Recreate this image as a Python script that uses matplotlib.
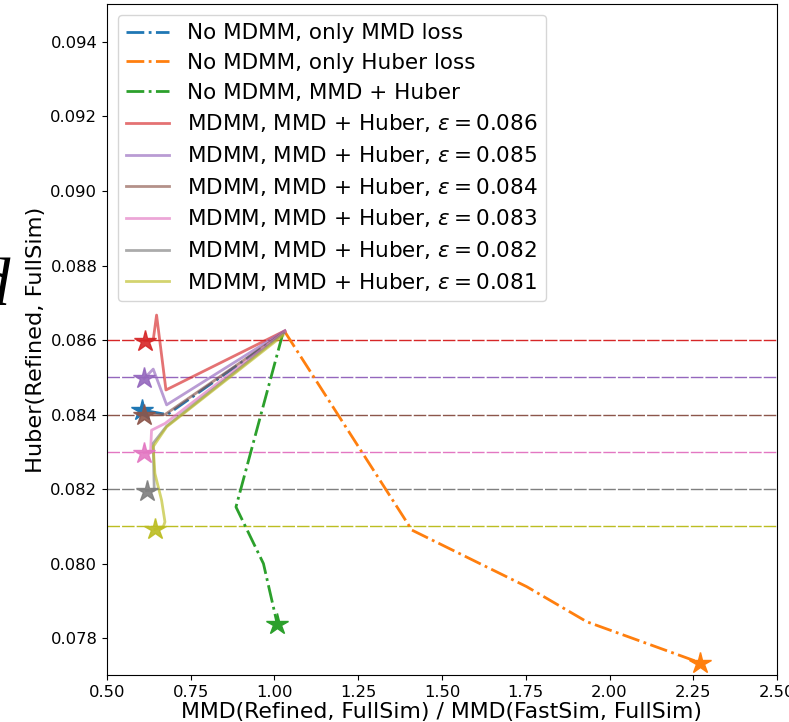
import matplotlib
matplotlib.use("Agg")
import matplotlib.pyplot as plt
import numpy as np

# ---- data ----
blue_x = [1.031, 0.680, 0.605]
blue_y = [0.08622, 0.08400, 0.08412]

orange_x = [1.031, 1.410, 1.753, 1.932, 2.270]
orange_y = [0.08622, 0.08090, 0.07938, 0.07844, 0.07734]

green_x = [1.025, 0.885, 0.967, 1.008]
green_y = [0.08618, 0.08152, 0.08000, 0.07839]

eps_values = [0.086, 0.085, 0.084, 0.083, 0.082, 0.081]

red_x = [1.031, 0.676, 0.648, 0.638, 0.613]
red_y = [0.08625, 0.08466, 0.08667, 0.08600, 0.08598]

purple_x = [1.031, 0.678, 0.638, 0.611]
purple_y = [0.08625, 0.08426, 0.08522, 0.08497]

brown_x = [1.031, 0.673, 0.611]
brown_y = [0.08622, 0.08400, 0.08399]

pink_x = [1.031, 0.673, 0.633, 0.630, 0.611]
pink_y = [0.08622, 0.08376, 0.08358, 0.08300, 0.08298]

gray_x = [1.028, 0.678, 0.638, 0.641, 0.618]
gray_y = [0.08618, 0.08369, 0.08323, 0.08197, 0.08196]

olive_x = [1.025, 0.678, 0.638, 0.643, 0.663, 0.673, 0.668, 0.643]
olive_y = [0.08612, 0.08367, 0.08314, 0.08242, 0.08170, 0.08112, 0.08099, 0.08092]

mdmm_x = [red_x, purple_x, brown_x, pink_x, gray_x, olive_x]
mdmm_y = [red_y, purple_y, brown_y, pink_y, gray_y, olive_y]

x_ticks = [0.50, 0.75, 1.00, 1.25, 1.50, 1.75, 2.00, 2.25, 2.50]
y_ticks = [0.078, 0.080, 0.082, 0.084, 0.086, 0.088, 0.090, 0.092, 0.094]

nomdmm_labels = ["No MDMM, only MMD loss", "No MDMM, only Huber loss", "No MDMM, MMD + Huber"]

# ---- styling ----
c_blue, c_orange, c_green = "#1f77b4", "#ff7f0e", "#2ca02c"
mdmm_colors = ["#d62728", "#9467bd", "#8c564b", "#e377c2", "#7f7f7f", "#bcbd22"]

fig = plt.figure(figsize=(7.89, 7.22), dpi=100)
ax = fig.add_axes([0.1356, 0.0651, 0.8492, 0.9294])

lw_dd = 2.0
ax.plot(blue_x, blue_y, color=c_blue, ls="-.", lw=lw_dd, label=nomdmm_labels[0])
ax.plot(orange_x, orange_y, color=c_orange, ls="-.", lw=lw_dd, label=nomdmm_labels[1])
ax.plot(green_x, green_y, color=c_green, ls="-.", lw=lw_dd, label=nomdmm_labels[2])

for xs, ys, eps, col in zip(mdmm_x, mdmm_y, eps_values, mdmm_colors):
    ax.plot(xs, ys, color=col, lw=2.0, alpha=0.65,
            label=r"MDMM, MMD + Huber, $\epsilon = $" + f"{eps:.3f}")

# horizontal epsilon lines
for eps, col in zip(eps_values, mdmm_colors):
    ax.axhline(eps, color=col, lw=1.0, ls=(0, (9, 1.5)), zorder=1)

# end-point stars
ax.plot(blue_x[-1], blue_y[-1], marker="*", ms=16, color=c_blue, ls="none")
ax.plot(orange_x[-1], orange_y[-1], marker="*", ms=16, color=c_orange, ls="none")
ax.plot(green_x[-1], green_y[-1], marker="*", ms=16, color=c_green, ls="none")
for xs, ys, col in zip(mdmm_x, mdmm_y, mdmm_colors):
    ax.plot(xs[-1], ys[-1], marker="*", ms=16, color=col, ls="none", alpha=0.9)

ax.set_xlim(0.5, 2.5)
ax.set_ylim(0.07701, 0.09502)
ax.set_xticks(x_ticks)
ax.set_xticklabels([f"{v:.2f}" for v in x_ticks])
ax.set_yticks(y_ticks)
ax.set_yticklabels([f"{v:.3f}" for v in y_ticks])
ax.tick_params(labelsize=11.8)

ax.set_xlabel("MMD(Refined, FullSim) / MMD(FastSim, FullSim)", fontsize=15.8, labelpad=2)
ax.set_ylabel("Huber(Refined, FullSim)", fontsize=16.2, labelpad=3)

leg = ax.legend(loc="upper left", fontsize=15.5, framealpha=0.8,
                borderaxespad=0.5, handlelength=2.0, labelspacing=0.45)

# stray cropped glyph at left edge of the original figure
fig.text(0.0127, 0.577, "d", ha="right", va="baseline", fontsize=48,
         family="Liberation Serif", style="italic")

fig.savefig("out.png", dpi=100)
